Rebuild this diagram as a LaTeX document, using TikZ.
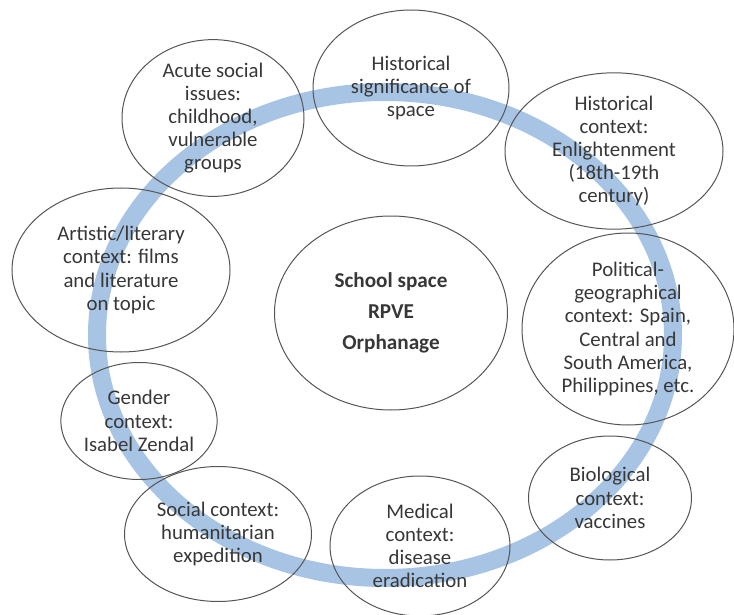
\documentclass[tikz,border=0pt]{standalone}
\usepackage{fontspec}
\setmainfont{Carlito}
\usetikzlibrary{shapes.geometric}

\definecolor{ringblue}{RGB}{168,196,228}
\definecolor{txtgray}{RGB}{55,55,55}
\definecolor{linegray}{RGB}{85,85,85}

\begin{document}
\begin{tikzpicture}[x=0.5pt,y=-0.5pt,
        topic/.style={ellipse, draw=linegray, line width=0.5pt, inner sep=0pt,
            align=center, text=txtgray, font=\fontsize{10.4}{11.6}\selectfont},
        ring/.style={draw=ringblue, line width=9pt}]

        \useasboundingbox (0,0) rectangle (734,615);

        % the blue ring behind everything
        \draw[ring] (385,335) ellipse [x radius=288, y radius=243];

        \node[topic, minimum width=116.5pt, minimum height=97pt, font=\bfseries\fontsize{10.6}{15.5}\selectfont]
                                                          (school)   at (391,313) {School space\\RPVE\\Orphanage};
        \node[topic, minimum width=91pt,  minimum height=70pt] (acute)    at (213,118) {Acute social\\issues:\\childhood,\\vulnerable\\groups};
        \node[topic, minimum width=98pt,  minimum height=78pt] (histsig)  at (411,88)  {Historical\\significance of\\space};
        \node[topic, minimum width=109pt, minimum height=76pt] (histctx)  at (614,151) {Historical\\context:\\Enlightenment\\(18th-19th\\century)};
        \node[topic, minimum width=106pt, minimum height=96pt] (polit)    at (628,329) {Political-\\geographical\\context: Spain,\\Central and\\South America,\\Philippines, etc.};
        \node[topic, minimum width=81.5pt,minimum height=62pt] (bio)      at (610,498) {Biological\\context:\\vaccines};
        \node[topic, minimum width=90pt,  minimum height=70pt] (medical)  at (420,546) {Medical\\context:\\disease\\eradication};
        \node[topic, minimum width=93.5pt,minimum height=67.5pt] (social) at (218,534) {Social context:\\humanitarian\\expedition};
        \node[topic, minimum width=67.5pt,minimum height=58.5pt] (gender) at (139,421) {Gender\\context:\\Isabel Zendal};
        \node[topic, minimum width=109pt, minimum height=82pt] (artistic) at (121,270) {Artistic/literary\\context: films\\and literature\\on topic};

\end{tikzpicture}
\end{document}
